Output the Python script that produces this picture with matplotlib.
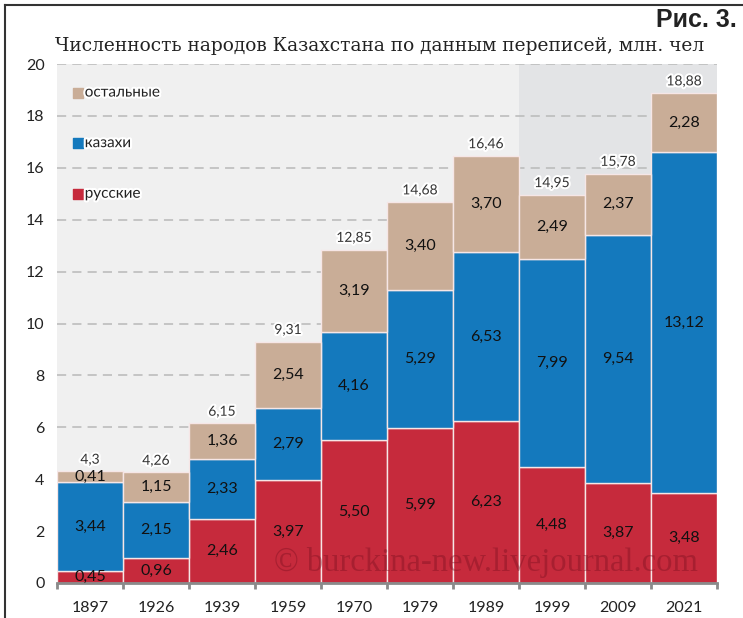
import numpy as np
import matplotlib
matplotlib.use("Agg")
import matplotlib.pyplot as plt
import matplotlib.patheffects as pe

# data (млн. чел)
years = ["1897", "1926", "1939", "1959", "1970", "1979", "1989", "1999", "2009", "2021"]
russians = [0.45, 0.96, 2.46, 3.97, 5.50, 5.99, 6.23, 4.48, 3.87, 3.48]
kazakhs = [3.44, 2.15, 2.33, 2.79, 4.16, 5.29, 6.53, 7.99, 9.54, 13.12]
others = [0.41, 1.15, 1.36, 2.54, 3.19, 3.40, 3.70, 2.49, 2.37, 2.28]
totals = ["4,3", "4,26", "6,15", "9,31", "12,85", "14,68", "16,46", "14,95", "15,78", "18,88"]
series_names = ["русские", "казахи", "остальные"]
colors = ["#c62a3c", "#1479bd", "#c9ad97"]

plt.rcParams['font.family'] = ['Lato', 'DejaVu Sans']

fig = plt.figure(figsize=(7.43, 6.18), dpi=100)
ax = fig.add_axes([57/743, 35/618, 660/743, 519/618])

x = np.arange(len(years))
ax.set_xlim(-0.5, len(years) - 0.5)
ax.set_ylim(0, 20)

# background shading
ax.axvspan(-0.5, 6.5, color="#f0f0f0", zorder=0, lw=0)
ax.axvspan(6.5, 9.5, color="#e3e4e6", zorder=0, lw=0)

for yv in range(2, 21, 2):
    ax.axhline(yv, color="#b9b9b9", lw=1.1, ls=(0, (6, 4)), zorder=1)

bottom = np.zeros(len(years))
for vals, col in zip([russians, kazakhs, others], colors):
    vals = np.array(vals)
    ax.bar(x, vals, width=1.0, bottom=bottom, color=col, edgecolor="#f6e6e6",
           linewidth=1.0, zorder=2)
    for xi, b, v in zip(x, bottom, vals):
        ax.text(xi, b + v / 2, f"{v:.2f}".replace(".", ","), ha="center", va="center",
                fontsize=11.5, color="#111111", zorder=4)
    bottom += vals

for xi, top, lab in zip(x, bottom, totals):
    ax.text(xi, top + 0.45, lab, ha="center", va="center", fontsize=10, color="#333333",
            zorder=4, path_effects=[pe.withStroke(linewidth=3, foreground="white")])

# legend inside plot
for i, (name, col) in enumerate(zip(series_names, colors)):
    yl = 15.0 + i * 1.95
    ax.scatter(-0.18, yl, marker="s", s=45, color=col, zorder=4)
    ax.text(-0.08, yl, name, ha="left", va="center", fontsize=11, color="#222222", zorder=4,
            path_effects=[pe.withStroke(linewidth=3, foreground="white")])

# axes styling
for s in ["top", "right", "left"]:
    ax.spines[s].set_visible(False)
ax.spines["bottom"].set_color("#8a8a8a")
ax.spines["bottom"].set_linewidth(2)
ax.set_yticks(range(0, 21, 2))
ax.tick_params(axis="y", length=0, labelsize=11.5, pad=9, labelcolor="#222222")
ax.set_xticks(np.arange(-0.5, len(years), 1.0))
ax.set_xticklabels([])
ax.set_xticks(x, minor=True)
ax.set_xticklabels(years, minor=True)
ax.tick_params(axis="x", which="major", length=4, width=2, color="#8a8a8a", direction="out")
ax.tick_params(axis="x", which="minor", length=0, labelsize=11.5, pad=13, labelcolor="#222222")

# watermark
ax.text(6.0, 0.8, "© burckina-new.livejournal.com", ha="center", va="center",
        fontsize=23.5, family=["Liberation Serif", "DejaVu Serif"], color="#7a1020",
        alpha=0.4, zorder=5)

# titles
fig.text(55/743, 1 - 46/618, "Численность народов Казахстана по данным переписей, млн. чел",
         ha="left", va="center", fontsize=13.4, family=["DejaVu Serif"],
         color="#222222")
fig.text(737/743, 1 - 20/618, "Рис. 3.", ha="right", va="center", fontsize=18,
         fontweight="bold", family=["Liberation Sans Narrow", "Liberation Sans", "DejaVu Sans"],
         color="#222222")

# frame
fig.add_artist(plt.Line2D([5/743, 5/743], [0, 1 - 5/618], color="#333333", lw=1.5))
fig.add_artist(plt.Line2D([5/743, 1], [1 - 5/618, 1 - 5/618], color="#333333", lw=1.5))

fig.savefig("out.png", dpi=100)
